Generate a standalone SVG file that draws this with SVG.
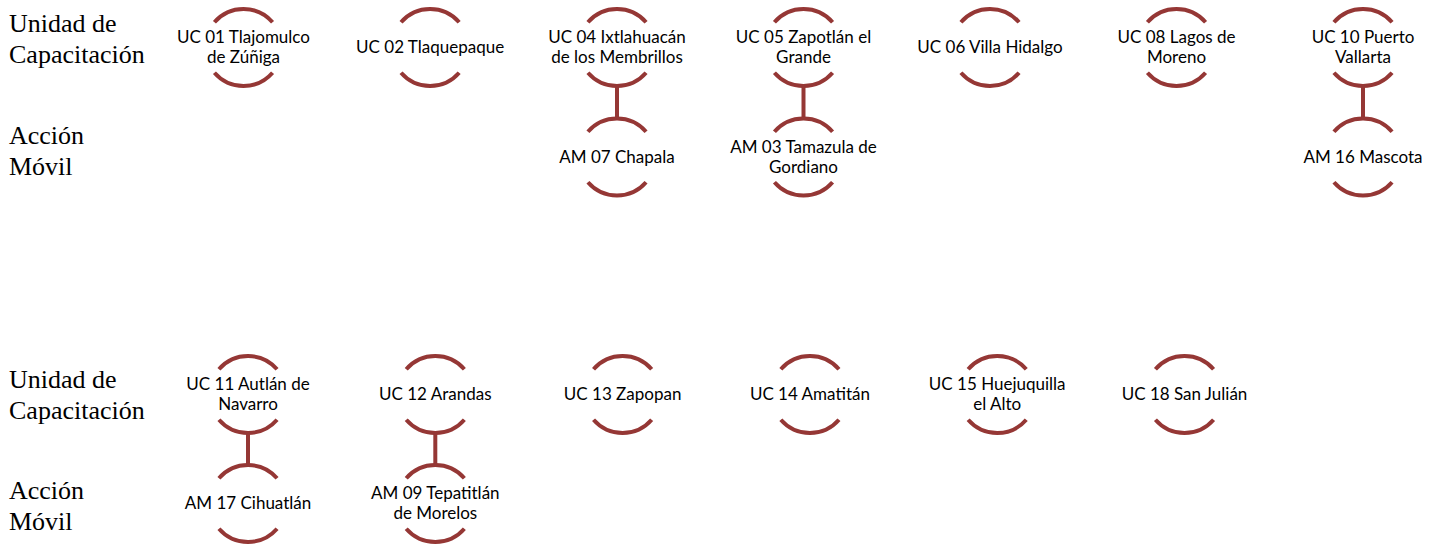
<svg xmlns="http://www.w3.org/2000/svg" xmlns:xlink="http://www.w3.org/1999/xlink" width="1438" height="545" viewBox="0 0 1438 545">
<style>
.arc{fill:none;stroke:#953735;stroke-width:4}
.con{stroke:#953735;stroke-width:4}
.lbl{font-family:Lato,"Liberation Sans",sans-serif;font-size:17px;fill:#000;text-anchor:middle}
.side{font-family:"Liberation Serif","Times New Roman",serif;font-size:26px;fill:#000}
</style>
<defs>
<g id="ring">
<path class="arc" d="M-29.06,-25.26 A38.5,38.5 0 0 1 29.06,-25.26"/>
<path class="arc" d="M-29.06,25.26 A38.5,38.5 0 0 0 29.06,25.26"/>
</g>
</defs>
<rect width="1438" height="545" fill="#fff"/>
<g id="side-labels">
<text class="side" x="9" y="32">Unidad de</text>
<text class="side" x="9" y="63">Capacitación</text>
<text class="side" x="9" y="144">Acción</text>
<text class="side" x="9" y="175">Móvil</text>
<text class="side" x="9" y="388">Unidad de</text>
<text class="side" x="9" y="419">Capacitación</text>
<text class="side" x="9" y="499">Acción</text>
<text class="side" x="9" y="530">Móvil</text>
</g>
<g id="connectors">
<line class="con" x1="617" y1="86" x2="617" y2="119"/>
<line class="con" x1="803.5" y1="86" x2="803.5" y2="119"/>
<line class="con" x1="1363" y1="86" x2="1363" y2="119"/>
<line class="con" x1="248" y1="433" x2="248" y2="465"/>
<line class="con" x1="435.3" y1="433" x2="435.3" y2="465"/>
</g>
<g id="uc01" transform="translate(243.5,47.5)"><use xlink:href="#ring"/><text class="lbl" y="-4.5">UC 01 Tlajomulco</text><text class="lbl" y="15.5">de Zúñiga</text></g>
<g id="uc02" transform="translate(430.1,47.5)"><use xlink:href="#ring"/><text class="lbl" y="5.5">UC 02 Tlaquepaque</text></g>
<g id="uc04" transform="translate(617,47.5)"><use xlink:href="#ring"/><text class="lbl" y="-4.5">UC 04 Ixtlahuacán</text><text class="lbl" y="15.5">de los Membrillos</text></g>
<g id="uc05" transform="translate(803.5,47.5)"><use xlink:href="#ring"/><text class="lbl" y="-4.5">UC 05 Zapotlán el</text><text class="lbl" y="15.5">Grande</text></g>
<g id="uc06" transform="translate(990,47.5)"><use xlink:href="#ring"/><text class="lbl" y="5.5">UC 06 Villa Hidalgo</text></g>
<g id="uc08" transform="translate(1176.5,47.5)"><use xlink:href="#ring"/><text class="lbl" y="-4.5">UC 08 Lagos de</text><text class="lbl" y="15.5">Moreno</text></g>
<g id="uc10" transform="translate(1363,47.5)"><use xlink:href="#ring"/><text class="lbl" y="-4.5">UC 10 Puerto</text><text class="lbl" y="15.5">Vallarta</text></g>
<g id="am07" transform="translate(617,157)"><use xlink:href="#ring"/><text class="lbl" y="5.5">AM 07 Chapala</text></g>
<g id="am03" transform="translate(803.5,157)"><use xlink:href="#ring"/><text class="lbl" y="-4.5">AM 03 Tamazula de</text><text class="lbl" y="15.5">Gordiano</text></g>
<g id="am16" transform="translate(1363,157)"><use xlink:href="#ring"/><text class="lbl" y="5.5">AM 16 Mascota</text></g>
<g id="uc11" transform="translate(248,394.5)"><use xlink:href="#ring"/><text class="lbl" y="-4.5">UC 11 Autlán de</text><text class="lbl" y="15.5">Navarro</text></g>
<g id="uc12" transform="translate(435.3,394.5)"><use xlink:href="#ring"/><text class="lbl" y="5.5">UC 12 Arandas</text></g>
<g id="uc13" transform="translate(622.6,394.5)"><use xlink:href="#ring"/><text class="lbl" y="5.5">UC 13 Zapopan</text></g>
<g id="uc14" transform="translate(809.9,394.5)"><use xlink:href="#ring"/><text class="lbl" y="5.5">UC 14 Amatitán</text></g>
<g id="uc15" transform="translate(997.2,394.5)"><use xlink:href="#ring"/><text class="lbl" y="-4.5">UC 15 Huejuquilla</text><text class="lbl" y="15.5">el Alto</text></g>
<g id="uc18" transform="translate(1184.5,394.5)"><use xlink:href="#ring"/><text class="lbl" y="5.5">UC 18 San Julián</text></g>
<g id="am17" transform="translate(248,503.5)"><use xlink:href="#ring"/><text class="lbl" y="5.5">AM 17 Cihuatlán</text></g>
<g id="am09" transform="translate(435.3,503.5)"><use xlink:href="#ring"/><text class="lbl" y="-4.5">AM 09 Tepatitlán</text><text class="lbl" y="15.5">de Morelos</text></g>
</svg>
